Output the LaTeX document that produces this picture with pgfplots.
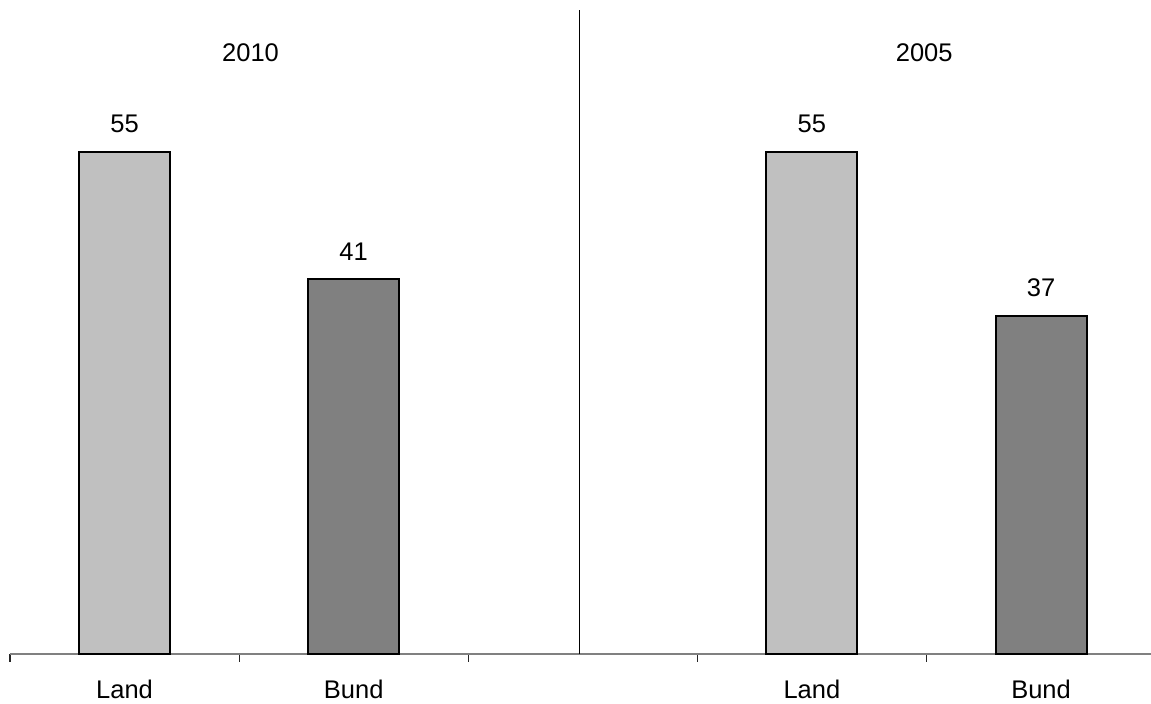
\documentclass[border=0pt]{standalone}
\usepackage{pgfplots}
\pgfplotsset{compat=1.18}
\usepackage{fontspec}
\setmainfont{Liberation Sans}
\definecolor{lightbar}{HTML}{C0C0C0}
\definecolor{darkbar}{HTML}{808080}
\begin{document}
\begin{tikzpicture}[font=\fontsize{12.75}{15}\selectfont]
\path[use as bounding box] (-5pt,-25pt) rectangle (570.5pt,327pt);
\begin{axis}[
  at={(0,0)}, anchor=south west,
  scale only axis, width=570.5pt, height=322pt,
  xmin=-0.5, xmax=4.48, ymin=0, ymax=70.5,
  clip=false,
  axis y line=none, axis x line*=bottom,
  x axis line style={black!50, line width=0.7pt},
  xtick={0,1,3,4}, xticklabels={Land,Bund,Land,Bund},
  major tick length=0pt,
  minor xtick={-0.5,0.5,1.5,2.5,3.5},
  minor tick length=4pt,
  tick align=outside,
  every tick/.style={black!85, line width=0.6pt},
  xticklabel style={anchor=north, inner sep=0pt, yshift=-13pt, font=\fontsize{12.75}{15}\selectfont},
  /pgf/number format/assume math mode=true,
  ybar, bar width=0.397, bar shift=0pt,
  nodes near coords,
  nodes near coords style={anchor=south, inner sep=0pt, yshift=9pt, font=\fontsize{12.75}{15}\selectfont, black},
]
\addplot[fill=lightbar, draw=black, line width=1pt] coordinates {(0,55) (3,55)};
\addplot[fill=darkbar, draw=black, line width=1pt] coordinates {(1,41) (4,37)};
\draw[black, line width=0.8pt] (axis cs:1.985,0) -- (axis cs:1.985,70.5);
\node[font=\fontsize{12.75}{15}\selectfont] at (axis cs:0.55,65.8) {2010};
\node[font=\fontsize{12.75}{15}\selectfont] at (axis cs:3.49,65.8) {2005};
\end{axis}
\end{tikzpicture}
\end{document}
